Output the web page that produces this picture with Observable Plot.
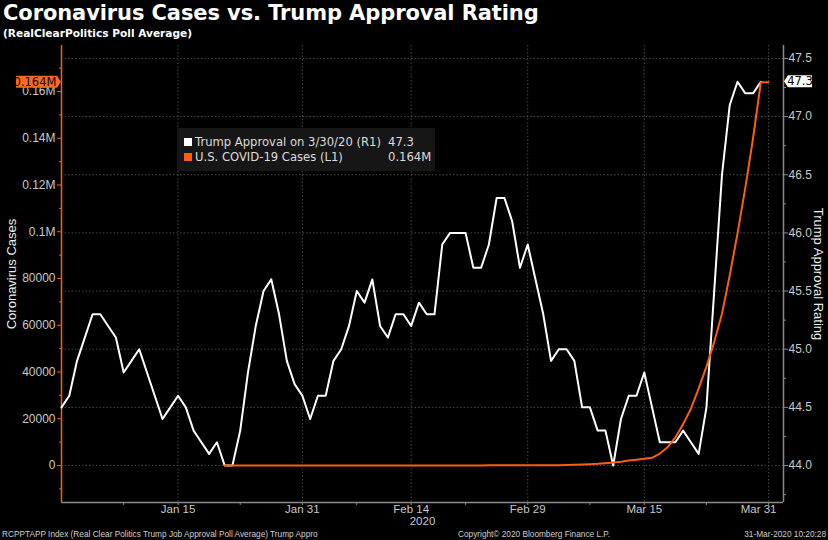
<!DOCTYPE html>
<html><head><meta charset="utf-8">
<script src="https://cdn.jsdelivr.net/npm/d3@7"></script>
<script src="https://cdn.jsdelivr.net/npm/@observablehq/plot@0.6"></script>
<style>
html,body{margin:0;padding:0;background:#000;}
body{width:828px;height:540px;overflow:hidden;position:relative;font-family:"Liberation Sans",Arial,sans-serif;color:#fff;}
#head{height:40px;padding-left:3px;}
#title{font-family:"DejaVu Sans",sans-serif;font-weight:bold;font-size:21px;letter-spacing:-0.1px;line-height:26px;color:#fff;}
#subtitle{font-family:"DejaVu Sans",sans-serif;font-weight:bold;font-size:10.6px;line-height:14px;color:#fff;}
#chart{height:488px;}
#foot{position:relative;height:12px;font-family:"Liberation Sans",sans-serif;font-size:9.5px;line-height:12px;color:#cfcfcf;}
#foot span{position:absolute;top:0;white-space:nowrap;transform:scaleX(0.87);}
#legend{position:absolute;left:177px;top:128px;width:258px;height:43px;background:#161616;font-family:"DejaVu Sans",sans-serif;font-size:11.6px;color:#dcdcdc;}
#legend .row{position:absolute;left:7px;height:15px;line-height:15px;white-space:nowrap;}
#legend .sw{display:inline-block;width:8px;height:8px;margin-right:3px;}
#legend .val{position:absolute;left:204px;top:0;}
</style></head><body>
<div id="head"><div id="title"></div><div id="subtitle"></div></div>
<div id="chart"></div>
<div id="foot"></div>
<div id="legend"></div>
<script>
// ---------- data ----------
const titleText = "Coronavirus Cases vs. Trump Approval Rating";
const subtitleText = "(RealClearPolitics Poll Average)";
const approvalStart = "2019-12-31"; // one value per day
const approval = [44.5,44.6,44.9,45.1,45.3,45.3,45.2,45.1,44.8,44.9,45.0,44.8,44.6,44.4,44.5,44.6,44.5,44.3,44.2,44.1,
  44.2,44.0,44.0,44.3,44.8,45.2,45.5,45.6,45.3,44.9,44.7,44.6,44.4,44.6,44.6,44.9,45.0,45.2,45.5,45.4,
  45.6,45.2,45.1,45.3,45.3,45.2,45.4,45.3,45.3,45.9,46.0,46.0,46.0,45.7,45.7,45.9,46.3,46.3,46.1,45.7,
  45.9,45.6,45.3,44.9,45.0,45.0,44.9,44.5,44.5,44.3,44.3,44.0,44.4,44.6,44.6,44.8,44.5,44.2,44.2,44.2,
  44.3,44.2,44.1,44.5,45.5,46.5,47.1,47.3,47.2,47.2,47.3];
const casesStart = "2020-01-21"; // one value per day
const cases = [1,1,1,2,3,5,5,5,5,6,7,8,8,11,11,12,12,12,12,12,12,13,13,14,14,15,15,15,15,15,15,15,35,35,53,53,59,60,62,70,
  76,101,122,153,221,319,435,541,704,994,1300,1650,2100,2500,2900,3300,5100,7800,12000,17700,24300,32900,42300,52800,64900,
  81400,99300,118800,140000,164000,164000];
const leftTicks = [0,20000,40000,60000,80000,100000,120000,140000,160000];
const leftTickLabels = ["0","20000","40000","60000","80000","0.1M","0.12M","0.14M","0.16M"];
const leftMinorTicks = [-10000,10000,30000,50000,70000,90000,110000,130000,150000,170000];
const rightTicks = [44.0,44.5,45.0,45.5,46.0,46.5,47.0,47.5];
const rightMinorTicks = [43.75,44.25,44.75,45.25,45.75,46.25,46.75,47.25];
const dateTicks = ["2020-01-15","2020-01-31","2020-02-14","2020-02-29","2020-03-15","2020-03-31"];
const dateTickLabels = ["Jan 15","Jan 31","Feb 14","Feb 29","Mar 15","Mar 31"];
const dateMinorTicks = ["2020-01-08","2020-01-23","2020-02-07","2020-02-21","2020-03-08","2020-03-23"];
const yearLabel = "2020";
const xDomainStr = ["2019-12-31T00:00Z","2020-04-01T22:00Z"];
const leftDomain = [-15830, 179680];
const rightDomain = [43.6818, 47.6114];
const leftTitle = "Coronavirus Cases";
const rightTitle = "Trump Approval Rating";
const legendNames = ["Trump Approval on 3/30/20 (R1)", "U.S. COVID-19 Cases (L1)"];
const footerTexts = ["RCPPTAPP Index (Real Clear Politics Trump Job Approval Poll Average) Trump Appro",
  "Copyright\u00a9 2020 Bloomberg Finance L.P.", "31-Mar-2020 10:20:28"];

// ---------- styles ----------
const ORANGE = "#fb5e10";
const TAG_ORANGE = "#f46a1e";
const AXIS_GRAY = "#8a8a8a";
const LABEL = "#c9c9c9";
const GRID = "#484848";

// ---------- build ----------
const parse = d3.utcParse("%Y-%m-%d");
const approvalData = approval.map((v, i) => ({date: d3.utcDay.offset(parse(approvalStart), i), value: v}));
const casesData = cases.map((v, i) => ({date: d3.utcDay.offset(parse(casesStart), i), value: v}));
const toLeft = d3.scaleLinear(rightDomain, leftDomain);
const xDomain = xDomainStr.map(s => new Date(s));
const dateTickData = dateTicks.map((d, i) => ({date: parse(d), label: dateTickLabels[i]}));
const leftLabelMap = new Map(leftTicks.map((t, i) => [t, leftTickLabels[i]]));
const lastCases = cases[cases.length - 1];
const lastApproval = approval[approval.length - 1];
const fmtCases = v => v >= 100000 ? (v / 1e6).toFixed(3) + "M" : String(v);
const fmtAppr = v => v.toFixed(1);

d3.select("#title").text(titleText);
d3.select("#subtitle").text(subtitleText);

const tags = (index, scales, values, dims) => {
  const g = d3.create("svg:g").attr("font-family", "DejaVu Sans, sans-serif").attr("font-size", 11.5);
  const xl = dims.marginLeft, xr = dims.width - dims.marginRight;
  const yl = scales.y(lastCases);
  const yr = scales.y(toLeft(lastApproval));
  const h = 6, wl = 42, wr = 26;
  g.append("path").attr("fill", TAG_ORANGE)
    .attr("d", `M${xl},${yl}L${xl - 4},${yl - h}L${xl - wl - 3},${yl - h}L${xl - wl - 3},${yl + h}L${xl - 4},${yl + h}Z`);
  g.append("text").attr("x", xl - 4 - wl / 2 - 1).attr("y", yl).attr("dy", "0.36em").attr("text-anchor", "middle")
    .attr("fill", "#1a0800").text(fmtCases(lastCases));
  g.append("path").attr("fill", "#fff")
    .attr("d", `M${xr + 1},${yr}L${xr + 5},${yr - h}L${xr + wr + 3},${yr - h}L${xr + wr + 3},${yr + h}L${xr + 5},${yr + h}Z`);
  g.append("text").attr("x", xr + 5 + wr / 2 - 1).attr("y", yr).attr("dy", "0.36em").attr("text-anchor", "middle")
    .attr("fill", "#000").text(fmtAppr(lastApproval));
  return g.node();
};

const chart = Plot.plot({
  width: 828, height: 488,
  marginLeft: 61, marginRight: 45, marginTop: 5, marginBottom: 26,
  style: {background: "#000", fontFamily: "Liberation Sans, Arial, sans-serif", overflow: "visible"},
  x: {type: "utc", domain: xDomain, axis: null},
  y: {domain: leftDomain, axis: null},
  marks: [
    Plot.gridY(rightTicks.map(toLeft), {stroke: GRID, strokeOpacity: 1, strokeDasharray: "1.5,2"}),
    Plot.gridX(dateTickData.map(d => d.date), {stroke: GRID, strokeOpacity: 1, strokeDasharray: "1.5,2"}),
    Plot.ruleX([xDomain[0]], {stroke: ORANGE, strokeWidth: 1.5}),
    Plot.ruleX([xDomain[1]], {stroke: AXIS_GRAY, strokeWidth: 1.5}),
    Plot.ruleY([leftDomain[0]], {stroke: AXIS_GRAY, strokeWidth: 1.5}),
    // left axis
    Plot.axisY(leftTicks, {anchor: "left", label: null, tickSize: 4, tickPadding: 2, stroke: ORANGE, fill: LABEL,
      fontSize: 12, tickFormat: t => leftLabelMap.get(t)}),
    Plot.axisY(leftMinorTicks, {anchor: "left", label: null, tickSize: 2, stroke: ORANGE, tickFormat: () => ""}),
    // right axis
    Plot.axisY(rightTicks.map(toLeft), {anchor: "right", label: null, tickSize: 4, tickPadding: 1, stroke: AXIS_GRAY, fill: LABEL,
      fontSize: 12, tickFormat: t => fmtAppr(toLeft.invert(t))}),
    Plot.axisY(rightMinorTicks.map(toLeft), {anchor: "right", label: null, tickSize: 2, stroke: AXIS_GRAY, tickFormat: () => ""}),
    // bottom axis
    Plot.axisX(dateTickData.map(d => d.date), {anchor: "bottom", label: null, tickSize: 3, stroke: AXIS_GRAY, tickFormat: () => ""}),
    Plot.axisX(dateMinorTicks.map(parse), {anchor: "bottom", label: null, tickSize: 3, stroke: AXIS_GRAY, tickFormat: () => ""}),
    Plot.text(dateTickData.slice(0, -1), {x: "date", text: "label", frameAnchor: "bottom", dy: 10, fill: LABEL, fontSize: 11.5}),
    Plot.text(dateTickData.slice(-1), {x: "date", text: "label", frameAnchor: "bottom", dy: 10, dx: -10, fill: LABEL, fontSize: 11.5}),
    Plot.text([yearLabel], {frameAnchor: "bottom", dy: 22, fill: LABEL, fontSize: 11.5}),
    // axis titles
    Plot.text([leftTitle], {frameAnchor: "left", textAnchor: "middle", rotate: -90, dx: -50, fill: "#eeeeee", fontSize: 13}),
    Plot.text([rightTitle], {frameAnchor: "right", textAnchor: "middle", rotate: 90, dx: 35, fill: "#eeeeee", fontSize: 13}),
    // series
    Plot.line(approvalData, {x: "date", y: d => toLeft(d.value), stroke: "#ffffff", strokeWidth: 2}),
    Plot.line(casesData, {x: "date", y: "value", stroke: ORANGE, strokeWidth: 2}),
    tags
  ]
});
document.getElementById("chart").appendChild(chart);

// legend
const legendData = [
  {name: legendNames[0], color: "#ffffff", value: fmtAppr(lastApproval)},
  {name: legendNames[1], color: ORANGE, value: fmtCases(lastCases)}
];
const lg = d3.select("#legend");
legendData.forEach((d, i) => {
  const row = lg.append("div").attr("class", "row").style("top", (7 + i * 15) + "px").style("width", "250px");
  row.append("span").attr("class", "sw").style("background", d.color);
  row.append("span").text(d.name);
  row.append("span").attr("class", "val").text(d.value);
});

// footer
const ft = d3.select("#foot");
ft.append("span").style("left", "2px").style("transform-origin", "left center").text(footerTexts[0]);
ft.append("span").style("left", "458px").style("transform-origin", "left center").text(footerTexts[1]);
ft.append("span").style("right", "2px").style("transform-origin", "right center").text(footerTexts[2]);
</script>
</body></html>
